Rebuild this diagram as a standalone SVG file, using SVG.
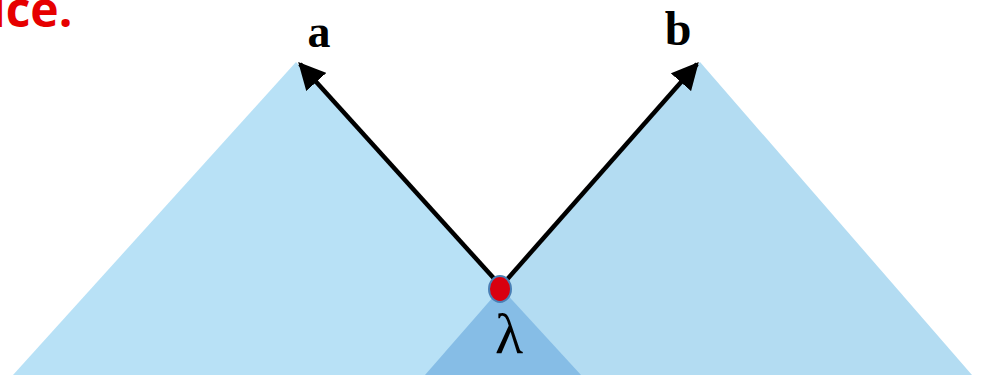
<svg xmlns="http://www.w3.org/2000/svg" width="983" height="375" viewBox="0 0 983 375">
<style>
.lbl{font-family:"Liberation Serif","Times New Roman",serif;font-weight:bold;fill:#000}
.greek{font-family:"Liberation Serif","Times New Roman",serif;font-weight:normal;fill:#000}
.arrow{stroke:#000;stroke-width:4.5;fill:none;marker-end:url(#ah)}
</style>
<defs>
<marker id="ah" viewBox="0 0 10 10" refX="9" refY="5" markerWidth="6" markerHeight="6" markerUnits="strokeWidth" orient="auto">
<path d="M0,0 L10,5 L0,10 Z" fill="#000"/>
</marker>
</defs>
<rect width="983" height="375" fill="#fff"/>
<text x="-9" y="27" font-family="'Open Sans',sans-serif" font-weight="bold" font-size="48" fill="#e60000">ice.</text>
<g id="tree-a"><polygon points="296,62 13,375 581,375" fill="#b8e1f6"/></g>
<g id="tree-b"><polygon points="700,62 425,375 972,375" fill="#b3dcf2"/></g>
<g id="overlap"><polygon points="501,288 425,375 581,375" fill="#86bde6"/></g>
<g id="connectors">
<line class="arrow" x1="499" y1="284" x2="300" y2="64"/>
<line class="arrow" x1="503" y1="284" x2="697" y2="64"/>
</g>
<g id="node-lambda">
<ellipse cx="500" cy="289" rx="11" ry="13" fill="#d9000f" stroke="#4a7fb5" stroke-width="2"/>
<text class="greek" x="509" y="353" font-size="58" text-anchor="middle">λ</text>
</g>
<g id="label-a"><text class="lbl" x="319" y="47" font-size="46" text-anchor="middle">a</text></g>
<g id="label-b"><text class="lbl" x="678" y="45" font-size="48" text-anchor="middle">b</text></g>
</svg>
